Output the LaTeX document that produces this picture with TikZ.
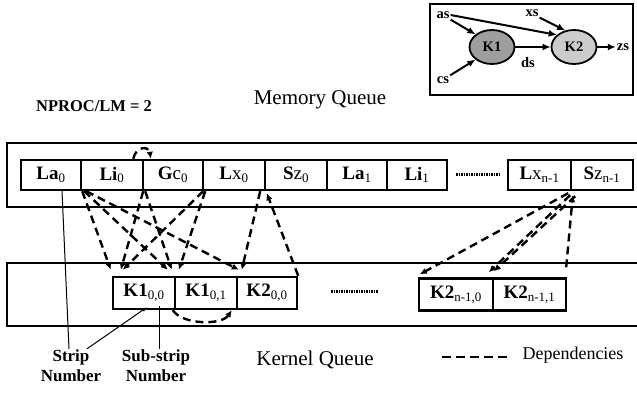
\documentclass[tikz,border=0pt]{standalone}
\usepackage{fontspec}
\setmainfont{Liberation Serif}
\usetikzlibrary{arrows.meta,shapes.geometric}
\newcommand\subs[1]{\textsubscript{\mdseries\fontsize{13}{14}\selectfont #1}}
\newcommand\rg[1]{{\mdseries #1}}
\begin{document}
\begin{tikzpicture}[x=1pt,y=-1pt,
  cell/.style={draw,line width=2.4pt,minimum height=30pt,inner sep=0pt,font=\fontsize{19}{21}\selectfont\bfseries},
  kcell/.style={draw,line width=2.4pt,minimum height=32pt,inner sep=0pt,font=\fontsize{19}{21}\selectfont\bfseries},
  queue/.style={line width=2.5pt},
  dep/.style={line width=2.4pt,dash pattern=on 8pt off 5pt,-{Latex[length=7pt,width=6.5pt]}},
  dotsline/.style={line width=3pt,dash pattern=on 1.5pt off 1pt},
  thinline/.style={line width=1pt},
  lab/.style={font=\fontsize{17}{20}\selectfont\bfseries,align=center,inner sep=1pt},
  ilab/.style={font=\fontsize{14.5}{16}\selectfont\bfseries,inner sep=1pt},
  iarr/.style={line width=2pt,-{Latex[length=8pt,width=7pt]}},
  knode/.style={ellipse,draw,line width=1.8pt,minimum width=45pt,minimum height=34pt,inner sep=0pt,font=\fontsize{14.5}{16}\selectfont\bfseries}
]
\useasboundingbox (0,0) rectangle (637,398);

% inset
\draw[line width=2.4pt] (430,4) rectangle (633,95);
\node[knode,fill=black!38] (k1) at (492,47) {K1};
\node[knode,fill=black!20] (k2) at (574,47) {K2};
\node[ilab] (as) at (443,15) {as};
\node[ilab] (cs) at (443,80) {cs};
\node[ilab] (xs) at (532,13) {xs};
\node[ilab] (zs) at (623,47) {zs};
\node[ilab] (ds) at (528,63) {ds};
\draw[iarr] (as.south east) -- (k1.north west);
\draw[iarr] (as.east) -- (k2.145);
\draw[iarr] (xs.south east) -- (k2.118);
\draw[iarr] (cs.north east) -- (k1.south west);
\draw[iarr] (k1.east) -- (k2.west);
\draw[iarr] (k2.east) -- (zs.west);

% titles
\node[font=\fontsize{16.5}{20}\selectfont\bfseries] (nproc) at (94,106) {NPROC/LM = 2};
\node[font=\fontsize{21}{24}\selectfont] (mq) at (320,100) {Memory Queue};

% memory queue
\draw[queue] (637,143) -- (7,143) -- (7,207) -- (637,207);
\node[cell,minimum width=60pt] (La0) at (51,175) {La\subs{0}};
\node[cell,minimum width=62pt] (Li0) at (112,175) {Li\subs{0}};
\node[cell,minimum width=60pt] (Gc0) at (173,175) {G\rg{c}\subs{0}};
\node[cell,minimum width=62pt] (Lx0) at (234,175) {L\rg{x}\subs{0}};
\node[cell,minimum width=62pt] (Sz0) at (296,175) {S\rg{z}\subs{0}};
\node[cell,minimum width=60pt] (La1) at (357,175) {La\subs{1}};
\node[cell,minimum width=60pt] (Li1) at (417,175) {Li\subs{1}};
\node[cell,minimum width=63pt] (Lxn) at (539.5,175) {L\rg{x}\subs{n-1}};
\node[cell,minimum width=62pt] (Szn) at (602,175) {S\rg{z}\subs{n-1}};
\draw[dotsline] ([xshift=8pt]Li1.east) -- ([xshift=-8pt]Lxn.west);

% kernel queue
\draw[queue] (637,263) -- (7,263) -- (7,326) -- (637,326);
\node[kcell,minimum width=62pt] (K100) at (144,293) {K1\subs{0,0}};
\node[kcell,minimum width=62pt] (K101) at (206,293) {K1\subs{0,1}};
\node[kcell,minimum width=60pt] (K200) at (267,293) {K2\subs{0,0}};
\node[kcell,minimum width=74pt] (K2n0) at (456,294.5) {K2\subs{n-1,0}};
\node[kcell,minimum width=73pt] (K2n1) at (529.5,294.5) {K2\subs{n-1,1}};
\draw[dotsline] ([xshift=33pt,yshift=2pt]K200.east) -- ([xshift=-40pt,yshift=3.5pt]K2n0.west);

% dependencies
\draw[dep] ([xshift=0pt]La0.south east) -- ([xshift=-1pt,yshift=6pt]K100.north west);
\draw[dep] ([xshift=2pt]La0.south east) -- ([xshift=-6pt,yshift=6pt]K101.north west);
\draw[dep] ([xshift=4pt]La0.south east) -- ([xshift=3pt,yshift=6pt]K200.north west);
\draw[dep] ([xshift=-1pt]Li0.south east) -- ([xshift=9pt,yshift=6pt]K100.north west);
\draw[dep] ([xshift=1pt]Li0.south east) -- ([xshift=-2pt,yshift=6pt]K101.north west);
\draw[dep] ([xshift=-1pt]Gc0.south east) -- ([xshift=11pt,yshift=6pt]K100.north west);
\draw[dep] ([xshift=1pt]Gc0.south east) -- ([xshift=5pt,yshift=6pt]K101.north west);
\draw[dep] ([xshift=-6pt]Lx0.south east) -- ([xshift=6pt,yshift=6pt]K200.north west);
\draw[dep] (K200.north east) -- ([xshift=3pt,yshift=-2pt]Sz0.south west);
\draw[dep] ([xshift=-11pt]Li0.north east) .. controls +(3,-13) and +(-2,-13) .. ([xshift=9pt]Gc0.north west);
\draw[dep] ([xshift=-1pt]K101.south west) .. controls +(10,15) and +(-10,15) .. ([xshift=-4pt]K200.south west);

\draw[dep] ([xshift=-4pt,yshift=-2pt]Lxn.south east) -- ([xshift=2pt,yshift=3pt]K2n0.north west);
\draw[dep] ([xshift=-2pt,yshift=-4pt]Lxn.south east) -- ([xshift=-3pt,yshift=5pt]K2n1.north west);
\draw[dep] ([xshift=3pt,yshift=-5pt]Lxn.south east) -- ([xshift=2pt,yshift=6pt]K2n1.north west);
\draw[dep] ([xshift=-1pt,yshift=10pt]K2n1.north east) -- ([xshift=3pt,yshift=-4pt]Szn.south west);

% bottom labels
\node[lab] (strip) at (71,366) {Strip\\Number};
\node[lab] (sub) at (156,366) {Sub-strip\\Number};
\draw[thinline] ([xshift=11pt]La0.south) -- ([xshift=-2pt]strip.north);
\draw[thinline,-{Latex[length=5pt,width=4pt]}] ([xshift=16pt]strip.north) -- ([xshift=3pt,yshift=3pt]K100.south);
\draw[thinline] ([xshift=15pt,yshift=4pt]K100.south) -- ([xshift=3pt]sub.north);
\node[font=\fontsize{21}{24}\selectfont] (kq) at (315,360) {Kernel Queue};

% legend
\coordinate (lg1) at (442,357);
\coordinate (lg2) at (508,357);
\draw[line width=2.5pt,dash pattern=on 9pt off 5pt] (lg1) -- (lg2);
\node[font=\fontsize{18}{20}\selectfont] (deps) at (573,355) {Dependencies};
\end{tikzpicture}
\end{document}
